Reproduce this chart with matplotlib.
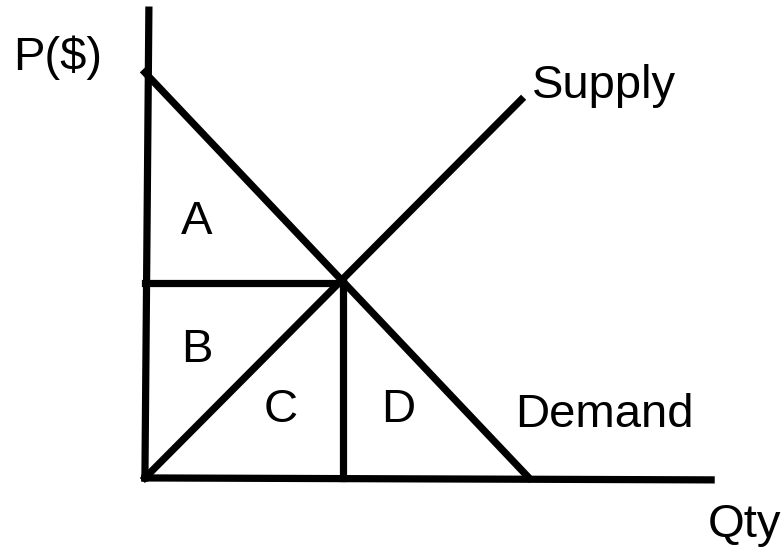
import matplotlib
matplotlib.use('Agg')
import matplotlib.pyplot as plt

plt.rcParams['font.family'] = ['Liberation Sans', 'DejaVu Sans']

# 曲线端点 (数量, 价格)
demand_q = [0, 9.7]
demand_p = [10.4, 0]
supply_q = [0, 9.5]
supply_p = [0, 9.7]
eq_q = 5
eq_p = 5
# 坐标轴线
yaxis_q = [0.1, 0]
yaxis_p = [12, 0]
xaxis_q = [0, 14.3]
xaxis_p = [0, -0.05]

fig = plt.figure(figsize=(7.82, 5.52), dpi=100)
ax = fig.add_axes([0, 0, 1, 1])

lw = 5.2
ax.plot(yaxis_q, yaxis_p, color='black', lw=lw)
ax.plot(xaxis_q, xaxis_p, color='black', lw=lw)
ax.plot(demand_q, demand_p, color='black', lw=lw)
ax.plot(supply_q, supply_p, color='black', lw=lw)
ax.plot([0, eq_q], [eq_p, eq_p], color='black', lw=lw)
ax.plot([eq_q, eq_q], [eq_p, 0], color='black', lw=lw)

fs = 34
ax.text(-3.33, 10.46, 'P($)', fontsize=fs, ha='left', va='baseline')
ax.text(9.77, 9.74, 'Supply', fontsize=fs, ha='left', va='baseline')
ax.text(9.34, 1.31, 'Demand', fontsize=fs, ha='left', va='baseline')
ax.text(14.22, -1.51, 'Qty', fontsize=fs, ha='left', va='baseline')
ax.text(1.31, 6.56, 'A', fontsize=fs, ha='center', va='center')
ax.text(1.31, 3.28, 'B', fontsize=fs, ha='center', va='center')
ax.text(3.43, 1.74, 'C', fontsize=fs, ha='center', va='center')
ax.text(6.39, 1.74, 'D', fontsize=fs, ha='center', va='center')

ax.set_xlim(-3.66, 16.09)
ax.set_ylim(-1.90, 12.26)
ax.axis('off')

plt.savefig('out.png', dpi=100)
